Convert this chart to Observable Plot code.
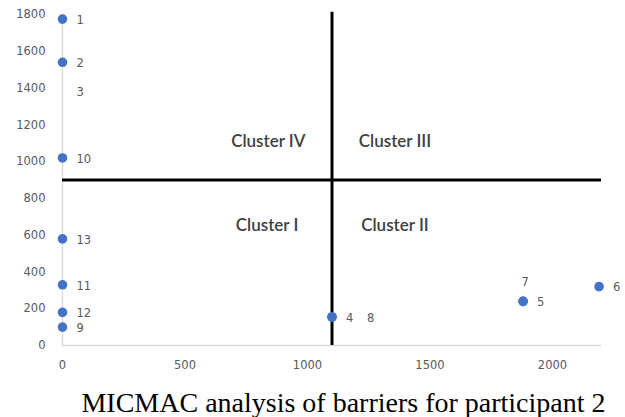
<!DOCTYPE html>
<html>
<head>
<meta charset="utf-8">
<script src="https://cdn.jsdelivr.net/npm/d3@7"></script>
<script src="https://cdn.jsdelivr.net/npm/@observablehq/plot@0.6"></script>
<style>
  html, body { margin: 0; padding: 0; background: #fff; }
  #chart { width: 625px; }
  #caption { font-family: "Liberation Serif", "DejaVu Serif", serif; font-size: 28px; color: #000; text-align: center; margin-top: 2px; padding-left: 62px; line-height: 32px; white-space: nowrap; }
</style>
</head>
<body>
<div id="chart"></div>
<div id="caption">MICMAC analysis of barriers for participant 2</div>
<script>
// Barrier ids and their (driving/dependence) coordinates
const barriers   = ["1", "2", "3", "10", "13", "11", "12", "9", "4", "8", "5", "7", "6"];
const xValues    = [0, 0, 0, 0, 0, 0, 0, 0, 1100, 1100, 1880, 1880, 2190];
const yValues    = [1775, 1540, 1385, 1020, 580, 330, 180, 100, 155, 155, 240, 240, 320];
const hiddenDots = ["3"];
// Barriers whose labels are offset because they overlap another point
const stackedRight = ["8"];
const stackedAbove = ["7"];

const clusterNames = ["Cluster IV", "Cluster III", "Cluster I", "Cluster II"];
const clusterX     = [840, 1357, 835, 1357];
const clusterY     = [1110, 1110, 650, 650];

const xTicks = [0, 500, 1000, 1500, 2000];
const yTicks = [0, 200, 400, 600, 800, 1000, 1200, 1400, 1600, 1800];
const xSplit = 1100;
const ySplit = 900;

const points = barriers.map((id, i) => ({id, x: xValues[i], y: yValues[i]}));
const clusters = clusterNames.map((name, i) => ({name, x: clusterX[i], y: clusterY[i]}));

const tickFont = "'DejaVu Sans', Verdana, sans-serif";

const plot = Plot.plot({
  width: 625,
  height: 385,
  marginTop: 14,
  marginLeft: 62,
  marginRight: 24,
  marginBottom: 40,
  style: { fontFamily: tickFont, background: "#fff" },
  x: { domain: [0, 2200] },
  y: { domain: [0, 1800] },
  marks: [
    Plot.axisX({ticks: xTicks, tickFormat: "d", tickSize: 0, tickPadding: 15, fontSize: 11.5, color: "#595959", label: null}),
    Plot.axisY({ticks: yTicks, tickFormat: "d", tickSize: 0, tickPadding: 17, fontSize: 11.5, color: "#595959", label: null}),
    Plot.ruleY([0], {x1: 0, x2: 2200, stroke: "#d9d9d9", strokeWidth: 1.3}),
    Plot.ruleX([0], {y1: 0, y2: 1800, stroke: "#d9d9d9", strokeWidth: 1.3}),
    Plot.ruleY([ySplit], {x1: 0, x2: 2200, stroke: "#000", strokeWidth: 3}),
    Plot.ruleX([xSplit], {y1: 0, y2: 1812, stroke: "#000", strokeWidth: 3}),
    Plot.dot(points.filter(d => !hiddenDots.includes(d.id)), {x: "x", y: "y", r: 4.8, fill: "#4472C4", stroke: "none"}),
    Plot.text(points.filter(d => !stackedRight.includes(d.id) && !stackedAbove.includes(d.id)), {x: "x", y: "y", text: "id", dx: 14, dy: 1, textAnchor: "start", fontSize: 11.5, fill: "#595959"}),
    Plot.text(points.filter(d => stackedRight.includes(d.id)), {x: "x", y: "y", text: "id", dx: 35, dy: 1, textAnchor: "start", fontSize: 11.5, fill: "#595959"}),
    Plot.text(points.filter(d => stackedAbove.includes(d.id)), {x: "x", y: "y", text: "id", dx: 2, dy: -19, textAnchor: "middle", fontSize: 11.5, fill: "#595959"}),
    Plot.text(clusters, {x: "x", y: "y", text: "name", fontSize: 17, fontWeight: 600, fill: "#404040", fontFamily: "Lato, 'Liberation Sans', sans-serif"})
  ]
});
document.getElementById("chart").appendChild(plot);
</script>
</body>
</html>
